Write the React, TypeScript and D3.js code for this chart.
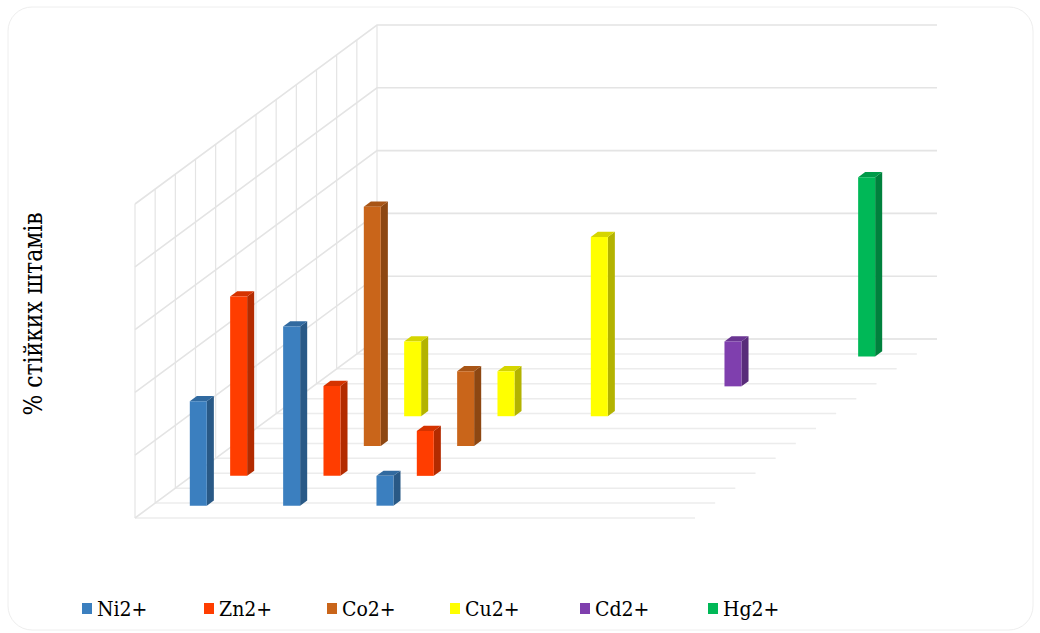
import React from "react";
import * as d3 from "d3";

// Categories along the front axis (labels are hidden on this chart)
const categories = ["1", "2", "3", "4", "5", "6"];
// Series, placed one behind the other along the depth axis
const seriesNames = ["Ni2+", "Zn2+", "Co2+", "Cu2+", "Cd2+", "Hg2+"];

// % of resistant strains per category (null = no bar)
const niValues = [33.3, 57.1, 9.5, null, null, null];
const znValues = [57.1, 28.6, 14.3, null, null, null];
const coValues = [null, 76.2, 23.8, null, null, null];
const cuValues = [null, 23.8, 14.3, 57.1, null, null];
const cdValues = [null, null, null, null, 14.3, null];
const hgValues = [null, null, null, null, null, 57.1];

const seriesValues = [niValues, znValues, coValues, cuValues, cdValues, hgValues];
const seriesColors = ["#3b7fbf", "#ff3d00", "#c9651a", "#ffff00", "#7f3fae", "#00b857"];

const valueTicks = [0, 20, 40, 60, 80, 100];

const W = 1040;
const H = 633;

// Oblique 3D frame
const floorLeft = 135;
const floorRight = 695;
const floorFront = 518;
const depthUnits = 12;
const depthDx = 242 / depthUnits;
const depthDy = -179 / depthUnits;
const wallHeight = 314;

const xBand = d3.scaleBand<string>().domain(categories).range([floorLeft, floorRight]);
const zBand = d3.scaleBand<string>().domain(seriesNames).range([0, depthUnits]);
const yScale = d3.scaleLinear().domain([0, 100]).range([0, wallHeight]);

const proj = (x: number, z: number, v: number): [number, number] => [
  x + z * depthDx,
  floorFront + z * depthDy - yScale(v),
];

const pts = (arr: [number, number][]) => arr.map((p) => p.join(",")).join(" ");

const gridColor = "#e4e4e4";
const floorColor = "#ececec";
const serifFont = "DejaVu Serif Condensed, DejaVu Serif";

export default function App() {
  const depthSteps = d3.range(0, depthUnits + 1);
  const barHalf = xBand.bandwidth() * 0.091;
  const barDepthHalf = 0.175;

  const bars: React.ReactNode[] = [];
  for (let s = seriesNames.length - 1; s >= 0; s--) {
    const zc = (zBand(seriesNames[s]) as number) + zBand.bandwidth() / 2;
    const zf = zc - barDepthHalf;
    const zb = zc + barDepthHalf;
    const base = d3.color(seriesColors[s])!;
    const side = base.darker(1).formatHex();
    const top = base.darker(0.5).formatHex();
    seriesValues[s].forEach((v, i) => {
      if (v == null) return;
      const xc = (xBand(categories[i]) as number) + xBand.bandwidth() / 2;
      const xl = xc - barHalf;
      const xr = xc + barHalf;
      bars.push(
        <g key={`${s}-${i}`}>
          <polygon
            points={pts([proj(xr, zf, 0), proj(xr, zb, 0), proj(xr, zb, v), proj(xr, zf, v)])}
            fill={side}
          />
          <polygon
            points={pts([proj(xl, zf, v), proj(xr, zf, v), proj(xr, zb, v), proj(xl, zb, v)])}
            fill={top}
          />
          <polygon
            points={pts([proj(xl, zf, 0), proj(xr, zf, 0), proj(xr, zf, v), proj(xl, zf, v)])}
            fill={seriesColors[s]}
          />
        </g>
      );
    });
  }

  const legendX = [82, 204, 327, 450, 580, 708];

  return (
    <svg
      width={W}
      height={H}
      style={{ position: "absolute", left: 0, top: 0, display: "block" }}
    >
      <rect x={0} y={0} width={W} height={H} fill="#ffffff" />
      <rect x={8} y={7} width={1025} height={623} rx={24} fill="#ffffff" stroke="#eeeeee" strokeWidth={1} />

      {/* floor lines */}
      {depthSteps.map((z) => {
        const [x1, y1] = proj(floorLeft, z, 0);
        const [x2, y2] = proj(floorRight, z, 0);
        return <line key={`f${z}`} x1={x1} y1={y1} x2={x2} y2={y2} stroke={floorColor} strokeWidth={1.5} />;
      })}

      {/* side wall verticals */}
      {depthSteps.map((z) => {
        const [x1, y1] = proj(floorLeft, z, 0);
        const [x2, y2] = proj(floorLeft, z, 100);
        return <line key={`sv${z}`} x1={x1} y1={y1} x2={x2} y2={y2} stroke={gridColor} strokeWidth={1.2} />;
      })}

      {/* side wall and back wall value gridlines */}
      {valueTicks.map((v) => {
        const a = proj(floorLeft, 0, v);
        const b = proj(floorLeft, depthUnits, v);
        const c = proj(floorRight, depthUnits, v);
        return (
          <polyline
            key={`g${v}`}
            points={pts([a, b, c])}
            fill="none"
            stroke={gridColor}
            strokeWidth={1.6}
          />
        );
      })}

      {bars}

      <text
        transform="translate(42,314) rotate(-90)"
        textAnchor="middle"
        fontFamily={serifFont}
        fontSize={26}
        textLength={203}
        lengthAdjust="spacingAndGlyphs"
        fill="#000"
      >
        % стійких штамів
      </text>

      {seriesNames.map((name, i) => (
        <g key={name}>
          <rect x={legendX[i]} y={603} width={10} height={11} fill={seriesColors[i]} />
          <text x={legendX[i] + 15} y={616} fontFamily={serifFont} fontSize={21} fill="#000">
            {name}
          </text>
        </g>
      ))}
    </svg>
  );
}
